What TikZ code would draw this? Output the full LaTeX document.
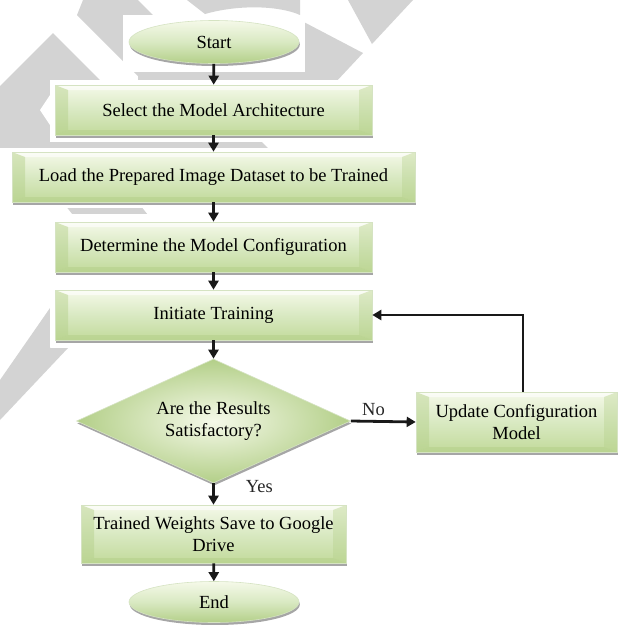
\documentclass[tikz,border=0pt]{standalone}
\usepackage{fontspec}
\setmainfont{Liberation Serif}
\usetikzlibrary{shapes.geometric,arrows.meta,shadows}

\definecolor{wm}{HTML}{D3D3D3}
\definecolor{bvTop}{HTML}{F5F9E9}
\definecolor{bvMid}{HTML}{D9E9C2}
\definecolor{bvBot}{HTML}{C2DA9B}
\definecolor{bvSide}{HTML}{B3CF88}
\definecolor{bvEdge}{HTML}{D5E3C2}

\tikzset{
  shade/.style={drop shadow={shadow xshift=0.8pt, shadow yshift=-2.5pt, fill=black, opacity=.35}},
  bevelbox/.style={rectangle, draw=bvEdge, line width=0.6pt, shade,
    inner sep=0pt, align=center,
    path picture={
      \fill[top color=bvTop, bottom color=bvBot, middle color=bvMid]
        (path picture bounding box.south west) rectangle (path picture bounding box.north east);
      \fill[white, opacity=.6]
        (path picture bounding box.north west) -- (path picture bounding box.north east)
        -- ([shift={(-13pt,-5pt)}]path picture bounding box.north east)
        -- ([shift={(13pt,-5pt)}]path picture bounding box.north west) -- cycle;
      \fill[bvSide, opacity=.45]
        (path picture bounding box.north west) -- ([shift={(13pt,-5pt)}]path picture bounding box.north west)
        -- ([shift={(13pt,5pt)}]path picture bounding box.south west)
        -- (path picture bounding box.south west) -- cycle;
      \fill[bvSide, opacity=.35]
        (path picture bounding box.north east) -- ([shift={(-13pt,-5pt)}]path picture bounding box.north east)
        -- ([shift={(-13pt,5pt)}]path picture bounding box.south east)
        -- (path picture bounding box.south east) -- cycle;
      \fill[bvSide, opacity=.5]
        (path picture bounding box.south west) -- ([shift={(13pt,5pt)}]path picture bounding box.south west)
        -- ([shift={(-13pt,5pt)}]path picture bounding box.south east)
        -- (path picture bounding box.south east) -- cycle;
    }},
  oval/.style={ellipse, draw=bvEdge, line width=0.6pt, shade, inner sep=0pt,
    top color=bvTop, bottom color=bvSide, middle color=bvMid,
    minimum width=170pt, minimum height=43pt},
  choice/.style={diamond, draw=bvEdge, line width=0.6pt, shade, inner sep=0pt,
    align=center, inner color=bvTop, outer color=bvSide,
    minimum width=274pt, minimum height=124pt, shape aspect=2.2},
  conn/.style={line width=2.8pt, draw=black!90,
    -{Triangle[length=9pt,width=10pt]}},
  lbl/.style={inner sep=0pt, text=black!85}
}

\begin{document}
\begin{tikzpicture}[x=1pt, y=-1pt, font=\fontsize{18.5}{22}\selectfont]
  \useasboundingbox (0,0) rectangle (619,625);
  \fill[white] (0,0) rectangle (619,625);

  % grey background emblem
  \fill[wm] (83,0) -- (138,0) -- (218,80) -- (142,80) -- (77,15) -- cycle;
  \fill[wm] (187,0) -- (300,0) -- (300,15) .. controls (280,6) and (240,4) .. (205,14) -- cycle;
  \fill[wm] (348,0) -- (413,0) -- (372,44) -- cycle;
  \fill[wm] (300,20) -- (363,53) -- (334,84) -- (138,84) -- (138,68) -- (300,68) -- cycle;
  \fill[wm] (53,33) -- (100,80) -- (100,140) -- (260,140) -- (272,152) -- (0,152) -- (0,86) -- cycle;
  \fill[wm] (65,205) -- (140,205) -- (152,220) -- (77,220) -- cycle;
  \fill[wm] (50,308) -- (50,348) -- (68,348) -- (0,420) -- (0,380) -- cycle;

  % white margins around the boxes
  \fill[white] (123,15) rectangle (305,72);
  \fill[white] (50,80) rectangle (378,142);
  \fill[white] (50,95) -- (40,110) -- (50,125) -- cycle;
  \fill[white] (0,148) rectangle (422,208);
  \fill[white] (50,214) rectangle (378,278);
  \fill[white] (50,284) rectangle (378,347);

  % flowchart
  \node[oval] (start) at (214,42) {Start};
  \node[bevelbox, minimum width=317pt, minimum height=50pt] (sel) at (213.5,110)
    {Select the Model Architecture};
  \node[bevelbox, minimum width=403pt, minimum height=50pt] (load) at (213.5,177)
    {Load the Prepared Image Dataset to be Trained};
  \node[bevelbox, minimum width=317pt, minimum height=50pt] (det) at (213.5,247)
    {Determine the Model Configuration};
  \node[bevelbox, minimum width=317pt, minimum height=50pt] (init) at (213.5,315)
    {Initiate Training};
  \node[choice] (dec) at (213.5,421) {Are the Results\\Satisfactory?};
  \node[bevelbox, minimum width=201pt, minimum height=60pt] (upd) at (516.5,422)
    {Update Configuration\\Model};
  \node[bevelbox, minimum width=265pt, minimum height=58pt] (trn) at (213.5,534)
    {Trained Weights Save to Google\\Drive};
  \node[oval, minimum height=41pt] (fin) at (214,602) {End};

  \draw[conn] (start) -- (sel);
  \draw[conn] (sel) -- (load);
  \draw[conn] (load) -- (det);
  \draw[conn] (det) -- (init);
  \draw[conn] (init) -- (dec);
  \draw[conn] (dec.south) -- (trn.north)
    node[lbl, pos=0.15, anchor=west, xshift=31pt] {Yes};
  \draw[conn] (trn) -- (fin);
  \draw[conn] (dec.east) -- (upd.west)
    node[lbl, pos=0.35, above=4pt] {No};
  \draw[conn] ([xshift=6.5pt]upd.north) |- (init.east);
\end{tikzpicture}
\end{document}
